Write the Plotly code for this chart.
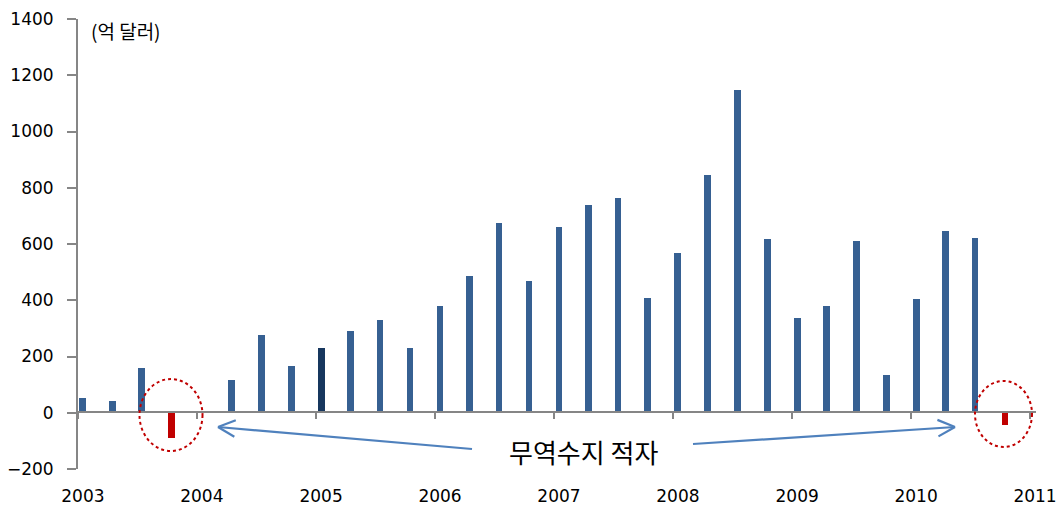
import math
import pandas as pd
import plotly.graph_objects as go

# ---- data ----
quarters = [
    "2003Q1", "2003Q2", "2003Q3", "2003Q4",
    "2004Q1", "2004Q2", "2004Q3", "2004Q4",
    "2005Q1", "2005Q2", "2005Q3", "2005Q4",
    "2006Q1", "2006Q2", "2006Q3", "2006Q4",
    "2007Q1", "2007Q2", "2007Q3", "2007Q4",
    "2008Q1", "2008Q2", "2008Q3", "2008Q4",
    "2009Q1", "2009Q2", "2009Q3", "2009Q4",
    "2010Q1", "2010Q2", "2010Q3", "2010Q4",
]
trade_balance = [
    52, 43, 158, -88,
    0, 115, 277, 165,
    230, 289, 331, 229,
    378, 487, 673, 467,
    660, 737, 762, 407,
    569, 847, 1148, 619,
    336, 381, 609, 134,
    406, 647, 622, -45,
]
year_labels = ["2003", "2004", "2005", "2006", "2007", "2008", "2009", "2010", "2011"]
unit_label = "(억 달러)"
deficit_label = "무역수지 적자"
highlight_quarter = "2005Q1"

# ---- derived positions ----
def quarter_date(q):
    y = int(q[:4]); n = int(q[-1])
    return pd.Timestamp(y, 3 * (n - 1) + 1, 16)

x_dates = [quarter_date(q) for q in quarters]
colors = []
for q, v in zip(quarters, trade_balance):
    if v < 0:
        colors.append("#C00000")
    elif q == highlight_quarter:
        colors.append("#17375E")
    else:
        colors.append("#366092")

W, H = 1059, 506
L, R, T, B = 78, 23, 19, 37
PW, PH = W - L - R, H - T - B

def px(x):
    return (x - L) / PW

def py(y):
    return (H - B - y) / PH

AX = "#868686"
FONT = "DejaVu Sans"
KFONT = "Noto Sans CJK KR"

fig = go.Figure()
fig.add_trace(go.Bar(
    x=x_dates, y=trade_balance, marker_color=colors,
    width=21 * 86400000, marker_line_width=0, xaxis="x", yaxis="y",
))
fig.add_trace(go.Scatter(x=[x_dates[0]], y=[0], mode="markers",
                         marker=dict(opacity=0), xaxis="x2", yaxis="y",
                         hoverinfo="skip", showlegend=False))

label_vals = [pd.Timestamp(int(y), 1, 16) for y in year_labels]
tick_vals = [pd.Timestamp(int(y), 1, 1) for y in year_labels]
xr = ["2003-01-01", "2011-01-19"]

fig.update_layout(
    width=W, height=H,
    margin=dict(l=L, r=R, t=T, b=B, autoexpand=False),
    plot_bgcolor="white", paper_bgcolor="white",
    showlegend=False, bargap=0,
    xaxis=dict(
        type="date", range=xr, tickvals=label_vals, ticktext=year_labels,
        showline=False, showgrid=False, zeroline=False, ticks="",
        tickfont=dict(family=FONT, size=17, color="black"),
        ticklabelstandoff=15, automargin=False,
    ),
    xaxis2=dict(
        type="date", range=xr, overlaying="x", matches="x",
        anchor="free", position=py(412), side="bottom",
        tickvals=tick_vals, showticklabels=False,
        showline=True, linecolor=AX, linewidth=2,
        ticks="outside", ticklen=6, tickwidth=2, tickcolor=AX,
        showgrid=False, zeroline=False, automargin=False,
    ),
    yaxis=dict(
        range=[-200, 1400], dtick=200, showgrid=False, zeroline=False,
        showline=True, linecolor=AX, linewidth=2,
        ticks="outside", ticklen=9, tickwidth=2, tickcolor=AX,
        tickfont=dict(family=FONT, size=17, color="black"),
        ticklabelstandoff=10, automargin=False,
    ),
)

annotations = [
    dict(text=unit_label, xref="paper", yref="paper", x=px(89), y=py(30),
         xanchor="left", yanchor="middle", showarrow=False,
         font=dict(family=KFONT, size=19, color="black")),
    dict(text=deficit_label, xref="paper", yref="paper", x=px(583), y=py(451),
         xanchor="center", yanchor="middle", showarrow=False,
         font=dict(family=KFONT, size=26, color="black")),
]
fig.update_layout(annotations=annotations)

shapes = []
for cx, cy, rx, ry in [(171, 415, 31.5, 36), (1003.5, 414, 28.5, 33)]:
    shapes.append(dict(type="circle", xref="paper", yref="paper",
                       x0=px(cx - rx), x1=px(cx + rx), y0=py(cy + ry), y1=py(cy - ry),
                       line=dict(color="#C00000", width=2, dash="dot")))

ARC = "#4F81BD"
for (tx, ty), (hx, hy) in [((472, 449), (218, 427)), ((693, 444), (955, 427))]:
    shapes.append(dict(type="line", xref="paper", yref="paper",
                       x0=px(tx), y0=py(ty), x1=px(hx), y1=py(hy),
                       line=dict(color=ARC, width=2.2)))
    ang = math.atan2(ty - hy, tx - hx)
    for d in (0.45, -0.45):
        ex = hx + 19 * math.cos(ang + d)
        ey = hy + 19 * math.sin(ang + d)
        shapes.append(dict(type="line", xref="paper", yref="paper",
                           x0=px(hx), y0=py(hy), x1=px(ex), y1=py(ey),
                           line=dict(color=ARC, width=2.2)))
fig.update_layout(shapes=shapes)

fig.write_html(
    "out.html",
    config={"displayModeBar": False},
    post_script="document.body.style.margin='0';document.body.style.overflow='hidden';",
)
